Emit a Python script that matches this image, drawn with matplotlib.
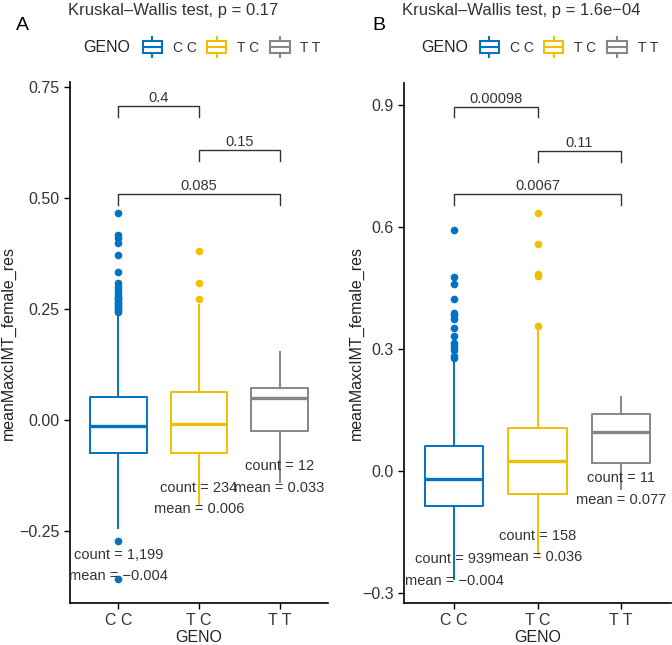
import numpy as np
import matplotlib
matplotlib.use("Agg")
import matplotlib.pyplot as plt
from matplotlib.legend_handler import HandlerBase
from matplotlib.patches import Rectangle
from matplotlib.lines import Line2D

plt.rcParams['font.family'] = ['Liberation Sans', 'DejaVu Sans']

# --- data ---
geno = ["C C", "T C", "T T"]
colors = ["#0073C2", "#EFC000", "#868686"]

# panel A: (whislo, q1, med, q3, whishi)
a_stats = [(-0.244, -0.074, -0.013, 0.051, 0.240),
           (-0.191, -0.074, -0.008, 0.062, 0.259),
           (-0.139, -0.024, 0.049, 0.071, 0.154)]
a_fliers = [[0.467, 0.417, 0.409, 0.399, 0.372, 0.334, 0.309, 0.300, 0.293, 0.286,
             0.278, 0.274, 0.270, 0.266, 0.263, 0.259, 0.255, 0.251, 0.248, 0.244,
             -0.272, -0.359],
            [0.381, 0.308, 0.273],
            []]
a_counts = ["1,199", "234", "12"]
a_means = ["\u22120.004", "0.006", "0.033"]
a_count_y = [-0.303, -0.152, -0.104]
a_mean_y = [-0.351, -0.200, -0.152]
a_pairs = [(1, 2), (2, 3), (1, 3)]
a_pvals = ["0.4", "0.15", "0.085"]
a_bracket_y = [0.706, 0.607, 0.508]
a_tip = 0.023
a_ylim = (-0.412, 0.761)
a_ticks = [-0.25, 0.0, 0.25, 0.5, 0.75]
a_ticklabels = ["\u22120.25", "0.00", "0.25", "0.50", "0.75"]
a_title = "Kruskal\u2013Wallis test, p = 0.17"

# panel B
b_stats = [(-0.264, -0.085, -0.019, 0.061, 0.273),
           (-0.204, -0.057, 0.025, 0.105, 0.350),
           (-0.045, 0.021, 0.096, 0.140, 0.183)]
b_fliers = [[0.592, 0.477, 0.461, 0.424, 0.389, 0.383, 0.375, 0.351, 0.332, 0.314,
             0.305, 0.297, 0.283, 0.277],
            [0.635, 0.558, 0.484, 0.479, 0.356],
            []]
b_counts = ["939", "158", "11"]
b_means = ["\u22120.004", "0.036", "0.077"]
b_count_y = [-0.217, -0.160, -0.016]
b_mean_y = [-0.270, -0.210, -0.070]
b_pairs = [(1, 2), (2, 3), (1, 3)]
b_pvals = ["0.00098", "0.11", "0.0067"]
b_bracket_y = [0.895, 0.786, 0.680]
b_tip = 0.025
b_ylim = (-0.324, 0.954)
b_ticks = [-0.3, 0.0, 0.3, 0.6, 0.9]
b_ticklabels = ["\u22120.3", "0.0", "0.3", "0.6", "0.9"]
b_title = "Kruskal\u2013Wallis test, p = 1.6e\u221204"

TXT = "#333333"


def draw_panel(ax, stats, fliers, counts, means, count_y, mean_y,
               pairs, pvals, bracket_y, tip, ylim, ticks, ticklabels):
    for i, (st, fl, col) in enumerate(zip(stats, fliers, colors)):
        d = dict(whislo=st[0], q1=st[1], med=st[2], q3=st[3], whishi=st[4], fliers=fl)
        ax.bxp([d], positions=[i + 1], widths=0.7, showcaps=False,
               boxprops=dict(color=col, linewidth=1.4),
               whiskerprops=dict(color=col, linewidth=1.4),
               medianprops=dict(color=col, linewidth=2.4),
               flierprops=dict(marker='o', markerfacecolor=col, markeredgecolor=col,
                               markersize=4.5, linestyle='none'),
               manage_ticks=False)
        ax.text(i + 1, count_y[i], f"count = {counts[i]}", ha='center', va='center',
                fontsize=10.5, color=TXT)
        ax.text(i + 1, mean_y[i], f"mean = {means[i]}", ha='center', va='center',
                fontsize=10.5, color=TXT)
    for (x1, x2), p, yb in zip(pairs, pvals, bracket_y):
        ax.plot([x1, x1, x2, x2], [yb - tip, yb, yb, yb - tip], color="#333333", lw=1.0)
        ax.text((x1 + x2) / 2, yb + tip * 0.1, p, ha='center', va='bottom',
                fontsize=10.5, color=TXT)
    ax.set_xlim(0.4, 3.6)
    ax.set_ylim(*ylim)
    ax.set_xticks([1, 2, 3])
    ax.set_xticklabels(geno)
    ax.set_yticks(ticks)
    ax.set_yticklabels(ticklabels)
    ax.tick_params(labelsize=11.5, labelcolor="#333333", length=4, width=1.0)
    for s in ['top', 'right']:
        ax.spines[s].set_visible(False)
    for s in ['left', 'bottom']:
        ax.spines[s].set_linewidth(1.2)
    ax.set_xlabel("GENO", fontsize=11.5, color="#222222", labelpad=1)
    ax.set_ylabel("meanMaxcIMT_female_res", fontsize=11.5, color="#222222")


class BoxHandler(HandlerBase):
    def create_artists(self, legend, orig_handle, xdescent, ydescent, width, height,
                       fontsize, trans):
        col = orig_handle.get_color()
        cx = width / 2 - xdescent
        bw = width * 0.95
        y0 = -ydescent
        r = Rectangle((cx - bw / 2, y0 + height * 0.12), bw, height * 0.76,
                      facecolor='white', edgecolor=col, lw=1.5, transform=trans)
        m = Line2D([cx - bw / 2, cx + bw / 2], [y0 + height / 2] * 2,
                   color=col, lw=1.5, transform=trans)
        w1 = Line2D([cx, cx], [y0 - height * 0.12, y0 + height * 0.12],
                    color=col, lw=1.5, transform=trans)
        w2 = Line2D([cx, cx], [y0 + height * 0.88, y0 + height * 1.12],
                    color=col, lw=1.5, transform=trans)
        return [r, m, w1, w2]


fig = plt.figure(figsize=(6.72, 6.45), dpi=100)
axA = fig.add_axes([70 / 672, 42 / 645, 258 / 672, 521 / 645])
axB = fig.add_axes([404 / 672, 42 / 645, 267 / 672, 520 / 645])

draw_panel(axA, a_stats, a_fliers, a_counts, a_means, a_count_y, a_mean_y,
           a_pairs, a_pvals, a_bracket_y, a_tip, a_ylim, a_ticks, a_ticklabels)
draw_panel(axB, b_stats, b_fliers, b_counts, b_means, b_count_y, b_mean_y,
           b_pairs, b_pvals, b_bracket_y, b_tip, b_ylim, b_ticks, b_ticklabels)
axA.yaxis.set_label_coords(-54 / 258, 0.5)
axB.yaxis.set_label_coords(-40 / 267, 0.5)

fig.text(173 / 672, 1 - 11 / 645, a_title, ha='center', va='center', fontsize=12, color="#333333")
fig.text(521 / 672, 1 - 11 / 645, b_title, ha='center', va='center', fontsize=12, color="#333333")
fig.text(22 / 672, 1 - 26 / 645, "A", ha='center', va='center', fontsize=14)
fig.text(379 / 672, 1 - 26 / 645, "B", ha='center', va='center', fontsize=14)

for x0, xl in [(83, 142), (421, 479)]:
    fig.text(x0 / 672, 1 - 47 / 645, "GENO", ha='left', va='center', fontsize=11.5, color="#222222")
    handles = [Line2D([], [], color=c) for c in colors]
    fig.legend(handles, geno, handler_map={Line2D: BoxHandler()}, ncol=3,
               loc='center left', bbox_to_anchor=(xl / 672, 1 - 47 / 645),
               frameon=False, fontsize=10, handlelength=1.45, handleheight=1.35,
               handletextpad=0.75, columnspacing=0.75, borderpad=0, borderaxespad=0,
               labelcolor="#333333")

fig.savefig("out.png", dpi=100)
